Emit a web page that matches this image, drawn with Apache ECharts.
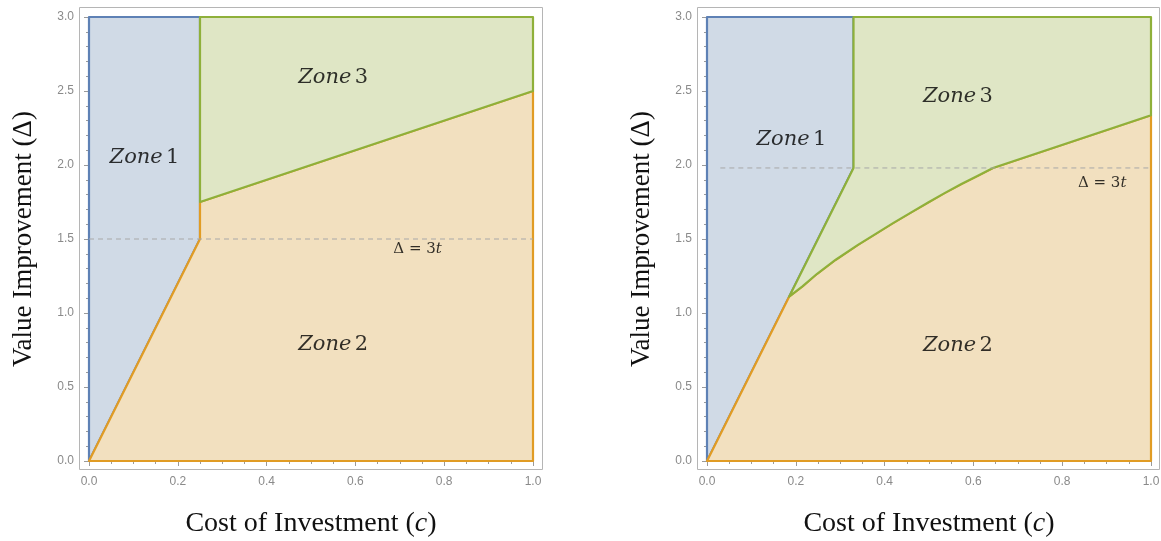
<!DOCTYPE html>
<html>
<head>
<meta charset="utf-8">
<script src="https://cdn.jsdelivr.net/npm/echarts@6/dist/echarts.min.js"></script>
<style>
  html, body { margin: 0; padding: 0; background: #ffffff; }
  #chart { width: 1161px; height: 541px; }
</style>
</head>
<body>
<div id="chart"></div>
<script>
// ---- Axis ranges and ticks ----
const xRange = [0, 1];
const yRange = [0, 3];
const xStep = 0.2;
const yStep = 0.5;

// ---- Left panel: zone polygons in (c, Δ) ----
const leftZone1 = [[0, 0], [0.25, 1.5], [0.25, 3], [0, 3]];
const leftZone2 = [[0, 0], [1, 0], [1, 2.5], [0.25, 1.75], [0.25, 1.5]];
const leftZone3 = [[0.25, 1.75], [1, 2.5], [1, 3], [0.25, 3]];
const leftThreshold = [[0, 1.5], [1, 1.5]];
const leftZoneLabels = [
  { name: '1', value: [0.125, 2.05] },
  { name: '2', value: [0.55, 0.79] },
  { name: '3', value: [0.55, 2.59] }
];
const leftThresholdLabel = [0.74, 1.43];

// ---- Right panel: zone polygons in (c, Δ) ----
const rightKink = [0.185, 1.11];
const rightCorner = [0.33, 1.98];
const rightCurve = [
  [0.185, 1.11], [0.215, 1.18], [0.248, 1.265], [0.29, 1.36], [0.34, 1.46],
  [0.38, 1.535], [0.419, 1.607], [0.46, 1.68], [0.498, 1.747],
  [0.535, 1.81], [0.573, 1.872], [0.61, 1.928], [0.644, 1.98]
];
const rightEdgeTop = [1, 2.336];
const rightZone1 = [[0, 0], rightKink, rightCorner, [0.33, 3], [0, 3]];
const rightZone2 = [[0, 0], [1, 0], rightEdgeTop].concat(rightCurve.slice().reverse());
const rightZone3 = [rightCorner, [0.33, 3], [1, 3], rightEdgeTop].concat(rightCurve.slice().reverse());
const rightThreshold = [[0.03, 1.98], [1, 1.98]];
const rightZoneLabels = [
  { name: '1', value: [0.19, 2.17] },
  { name: '2', value: [0.565, 0.78] },
  { name: '3', value: [0.565, 2.46] }
];
const rightThresholdLabel = [0.89, 1.88];

// ---- Styling ----
const BLUE = { fill: '#d0dae6', line: '#5e81b5' };
const ORANGE = { fill: '#f2e0bf', line: '#e19c24' };
const GREEN = { fill: '#dfe6c5', line: '#8fb03a' };
const FRAME = '#b5b5b5';
const TICK = '#9a9a9a';
const TICK_LABEL = '#8a8a8a';
const SERIF = '"Liberation Serif", "Times New Roman", serif';
const MATH = '"DejaVu Serif", serif';

const panels = [
  { left: 89, right: 628, zones: [leftZone1, leftZone2, leftZone3], threshold: leftThreshold,
    labels: leftZoneLabels, tLabel: leftThresholdLabel },
  { left: 707, right: 10, zones: [rightZone1, rightZone2, rightZone3], threshold: rightThreshold,
    labels: rightZoneLabels, tLabel: rightThresholdLabel }
];
const zoneStyles = [BLUE, ORANGE, GREEN];

const grids = [], xAxes = [], yAxes = [], series = [];

function tickLabelStyle(show) {
  return {
    show: show, color: TICK_LABEL, fontSize: 12, fontFamily: '"Liberation Sans", Arial, sans-serif',
    formatter: v => v.toFixed(1)
  };
}

panels.forEach((p, g) => {
  grids.push({
    left: p.left, right: p.right, top: 17, bottom: 80,
    containLabel: false, outerBoundsMode: 'none'
  });

  const xBase = {
    gridIndex: g, type: 'value', min: xRange[0], max: xRange[1], interval: xStep,
    axisLine: { show: false }, splitLine: { show: false },
    axisTick: { inside: true, length: 5, lineStyle: { color: TICK } },
    minorTick: { show: true, splitNumber: 4, length: 3, lineStyle: { color: TICK } }
  };
  const yBase = {
    gridIndex: g, type: 'value', min: yRange[0], max: yRange[1], interval: yStep,
    axisLine: { show: false }, splitLine: { show: false },
    axisTick: { inside: true, length: 5, lineStyle: { color: TICK } },
    minorTick: { show: true, splitNumber: 5, length: 3, lineStyle: { color: TICK } }
  };

  xAxes.push(Object.assign({}, xBase, {
    position: 'bottom', offset: 9,
    axisLabel: Object.assign(tickLabelStyle(true), { margin: 6 }),
    name: '{r|Cost of Investment (}{i|c}{r|)}', nameLocation: 'middle', nameGap: 40,
    nameTextStyle: {
      rich: {
        r: { fontFamily: SERIF, fontSize: 28, color: '#111' },
        i: { fontFamily: SERIF, fontSize: 28, fontStyle: 'italic', color: '#111' }
      }
    }
  }));
  xAxes.push(Object.assign({}, xBase, { position: 'top', offset: 10, axisLabel: { show: false } }));

  yAxes.push(Object.assign({}, yBase, {
    position: 'left', offset: 10,
    axisLabel: Object.assign(tickLabelStyle(true), { margin: 5 }),
    name: 'Value Improvement (Δ)', nameLocation: 'middle', nameGap: 42,
    nameTextStyle: { fontFamily: SERIF, fontSize: 27, color: '#111' }
  }));
  yAxes.push(Object.assign({}, yBase, { position: 'right', offset: 9, axisLabel: { show: false } }));

  const ax = g * 2;

  // zone fills with their boundaries, drawn in order so later zones' edges sit on top
  p.zones.forEach((pts, zi) => {
    const st = zoneStyles[zi];
    series.push({
      type: 'custom', xAxisIndex: ax, yAxisIndex: ax, silent: true, clip: false, z: 2 + zi,
      data: pts,
      renderItem: (params, api) => {
        if (params.dataIndex !== 0) return null;
        return {
          type: 'polygon',
          shape: { points: pts.map(pt => api.coord(pt)) },
          style: { fill: st.fill, stroke: st.line, lineWidth: 2.2, lineJoin: 'round' }
        };
      }
    });
  });

  // Δ = 3t reference line
  series.push({
    type: 'line', xAxisIndex: ax, yAxisIndex: ax, data: p.threshold, symbol: 'none', silent: true, z: 8,
    lineStyle: { color: '#a8a8a8', width: 1, type: [5, 4] }
  });

  // zone labels
  series.push({
    type: 'scatter', xAxisIndex: ax, yAxisIndex: ax, symbolSize: 0, silent: true, z: 10,
    data: p.labels,
    label: {
      show: true, position: 'inside',
      formatter: d => '{i|Zone} {n|' + d.name + '}',
      rich: {
        i: { fontFamily: MATH, fontStyle: 'italic', fontSize: 21, color: '#000' },
        n: { fontFamily: MATH, fontSize: 21, color: '#000' }
      }
    }
  });

  // threshold label
  series.push({
    type: 'scatter', xAxisIndex: ax, yAxisIndex: ax, symbolSize: 0, silent: true, z: 10,
    data: [{ value: p.tLabel }],
    label: {
      show: true, position: 'inside',
      formatter: () => '{n|Δ = 3}{i|t}',
      rich: {
        n: { fontFamily: MATH, fontSize: 15, color: '#000' },
        i: { fontFamily: MATH, fontStyle: 'italic', fontSize: 15, color: '#000' }
      }
    }
  });
});

const chart = echarts.init(document.getElementById('chart'), null, { renderer: 'canvas' });
chart.setOption({
  animation: false,
  backgroundColor: '#ffffff',
  grid: grids,
  xAxis: xAxes,
  yAxis: yAxes,
  series: series,
  graphic: [
    { type: 'rect', z: 100, silent: true, shape: { x: 79.5, y: 7.5, width: 463, height: 462 },
      style: { fill: null, stroke: FRAME, lineWidth: 1 } },
    { type: 'rect', z: 100, silent: true, shape: { x: 697.5, y: 7.5, width: 462, height: 462 },
      style: { fill: null, stroke: FRAME, lineWidth: 1 } }
  ]
});
</script>
</body>
</html>
